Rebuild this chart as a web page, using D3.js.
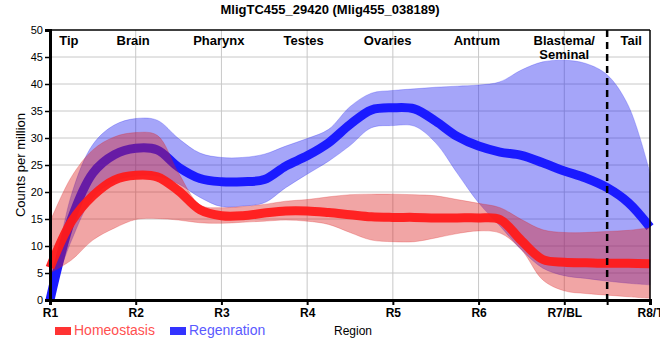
<!DOCTYPE html>
<html><head><meta charset="utf-8">
<script src="https://cdn.jsdelivr.net/npm/d3@7"></script>
<style>body{margin:0;background:#fff}svg{display:block}text{font-family:"Liberation Sans",Arial,sans-serif}</style>
</head><body><svg id="c" width="660" height="360"></svg>
<script>
const regionLabels = ["R1","R2","R3","R4","R5","R6","R7/BL","R8/T"];
const yTicks = [0,5,10,15,20,25,30,35,40,45,50];
const sectionNames = ["Tip","Brain","Pharynx","Testes","Ovaries","Antrum","Blastema/\nSeminal","Tail"];
const sectionAt = [0.22,0.97,1.97,2.96,3.94,4.98,6.0,6.78];
const boundaryAt = 6.5;
const samplePos = [0,0.25,0.5,0.75,1,1.25,1.5,1.75,2,2.25,2.5,2.75,3,3.25,3.5,3.75,4,4.25,4.5,4.75,5,5.25,5.5,5.75,6,6.25,6.5,6.75,7];
const homeoMean  = [6,14.5,19.3,22.2,23.1,22.8,20.2,16.7,15.6,15.6,16.1,16.5,16.5,16.2,15.8,15.4,15.3,15.3,15.2,15.2,15.2,14.9,11.0,7.5,7.0,6.9,6.8,6.8,6.7];
const homeoUpper = [14.5,22.8,27.8,30.2,31.0,30.5,23.5,17.6,17.1,17.3,17.7,18.3,18.6,19.1,19.5,19.6,19.6,19.5,19.3,18.6,17.9,17.1,14.9,13.0,12.5,12.5,12.7,12.9,13.4];
const homeoLower = [5.0,7.4,11.1,13.3,14.9,15.1,14.8,14.3,14.2,14.4,14.6,14.8,14.6,14.0,12.5,11.1,10.8,10.8,11.5,12.3,12.8,12.4,9.3,3.7,1.7,1.2,0.9,0.6,0.3];
const regenMean  = [0,15,23.5,26.9,28.1,27.8,24.6,22.5,21.9,21.9,22.3,24.8,26.7,29.1,32.5,35.2,35.6,35.4,33.1,30.3,28.5,27.4,26.8,25.4,23.9,22.6,20.8,18.0,13.5];
const regenUpper = [0.5,19.5,28.8,32.4,33.6,33.3,29.9,27.2,26.4,26.4,27.0,28.5,29.9,31.6,35.8,38.3,38.8,39.1,39.4,39.6,39.8,40.4,42.6,44.1,44.4,43.8,41.7,35.9,23.5];
const regenLower = [0,11,19,22,23,23,21.5,19,17.3,17.4,18.0,20.8,23.3,25.7,28.6,31.9,32.3,32.2,29.1,23.5,18.0,13.7,9.3,5.9,4.5,4.0,3.5,3.1,2.8];
const seriesNames = ["Homeostasis","Regenration"];

const svg = d3.select("#c");
const L=50,R=650,T=30,B=300;
const x = d3.scaleLinear().domain([0,7]).range([L,R]);
const y = d3.scaleLinear().domain([0,50]).range([B,T]);

svg.append("text").attr("x",330).attr("y",14).attr("text-anchor","middle")
  .attr("font-size",13).attr("font-weight","bold").text("MligTC455_29420 (Mlig455_038189)");

const grid = svg.append("g").attr("stroke","#c8c8c8").attr("stroke-width",1);
yTicks.filter(v=>v>0&&v<50).forEach(v=>grid.append("line").attr("x1",L).attr("x2",R).attr("y1",y(v)).attr("y2",y(v)));
regionLabels.forEach((d,i)=>{ if(i>0&&i<7) grid.append("line").attr("x1",x(i)).attr("x2",x(i)).attr("y1",T).attr("y2",B);});

const curve = d3.curveCatmullRom.alpha(0.5);
const pts = (lo,hi)=>samplePos.map((p,i)=>({p,lo:lo[i],hi:hi[i]}));
const area = d3.area().x(d=>x(d.p)).y0(d=>y(d.lo)).y1(d=>y(d.hi)).curve(curve);
const line = d3.line().x(d=>x(d.p)).y(d=>y(d.v)).curve(curve);
const mk = arr=>samplePos.map((p,i)=>({p,v:arr[i]}));

svg.append("path").attr("d",area(pts(regenLower,regenUpper))).attr("fill","rgba(30,30,240,0.4)").attr("stroke","rgba(30,30,240,0.25)");
svg.append("path").attr("d",line(mk(regenMean))).attr("fill","none").attr("stroke","#1a1aff").attr("stroke-width",9);
svg.append("path").attr("d",area(pts(homeoLower,homeoUpper))).attr("fill","rgba(220,30,30,0.4)").attr("stroke","rgba(220,30,30,0.25)");
svg.append("path").attr("d",line(mk(homeoMean))).attr("fill","none").attr("stroke","#ff1a1a").attr("stroke-opacity",0.95).attr("stroke-width",9);

svg.append("line").attr("x1",x(boundaryAt)).attr("x2",x(boundaryAt)).attr("y1",T).attr("y2",B)
  .attr("stroke","#000").attr("stroke-width",2.5).attr("stroke-dasharray","7,5");

svg.append("line").attr("x1",L).attr("x2",R).attr("y1",T).attr("y2",T).attr("stroke","#000").attr("stroke-width",1.5);
svg.append("line").attr("x1",R).attr("x2",R).attr("y1",T).attr("y2",B).attr("stroke","#000").attr("stroke-width",1.5);

const yAxis = svg.append("g").attr("transform",`translate(${L},0)`)
  .call(d3.axisLeft(y).tickValues(yTicks).tickSize(5).tickPadding(2));
yAxis.select(".domain").attr("stroke-width",3);
yAxis.selectAll(".tick line").attr("stroke-width",1.5);
yAxis.selectAll("text").attr("font-size",11).attr("font-family","Liberation Sans, Arial").attr("fill","#000");

const xAxis = svg.append("g").attr("transform",`translate(0,${B})`)
  .call(d3.axisBottom(x).tickValues(d3.range(8).concat([boundaryAt])).tickSize(5).tickPadding(3)
    .tickFormat(d=>Number.isInteger(d)?regionLabels[d]:""));
xAxis.select(".domain").attr("stroke-width",3);
xAxis.selectAll(".tick line").attr("stroke-width",2);
xAxis.selectAll("text").attr("font-size",12).attr("font-weight","bold").attr("font-family","Liberation Sans, Arial").attr("fill","#000");

sectionNames.forEach((s,i)=>{
  const t = svg.append("text").attr("x",x(sectionAt[i])).attr("y",45).attr("text-anchor","middle")
    .attr("font-size",13).attr("font-weight","bold");
  s.split("\n").forEach((part,k)=>t.append("tspan").attr("x",x(sectionAt[i])).attr("dy",k?14:0).text(part));
});

svg.append("text").attr("transform","translate(25,165) rotate(-90)").attr("text-anchor","middle")
  .attr("font-size",13).text("Counts per million");
svg.append("text").attr("x",353).attr("y",335).attr("text-anchor","middle").attr("font-size",12).text("Region");

const legColors = ["#ff3333","#3333ff"], legText=["#ff5050","#5a5aff"];
const legX = [55,170];
seriesNames.forEach((n,i)=>{
  svg.append("rect").attr("x",legX[i]).attr("y",327).attr("width",16).attr("height",8).attr("fill",legColors[i]);
  svg.append("text").attr("x",legX[i]+19).attr("y",335).attr("font-size",14).attr("fill",legText[i]).text(n);
});
</script></body></html>
